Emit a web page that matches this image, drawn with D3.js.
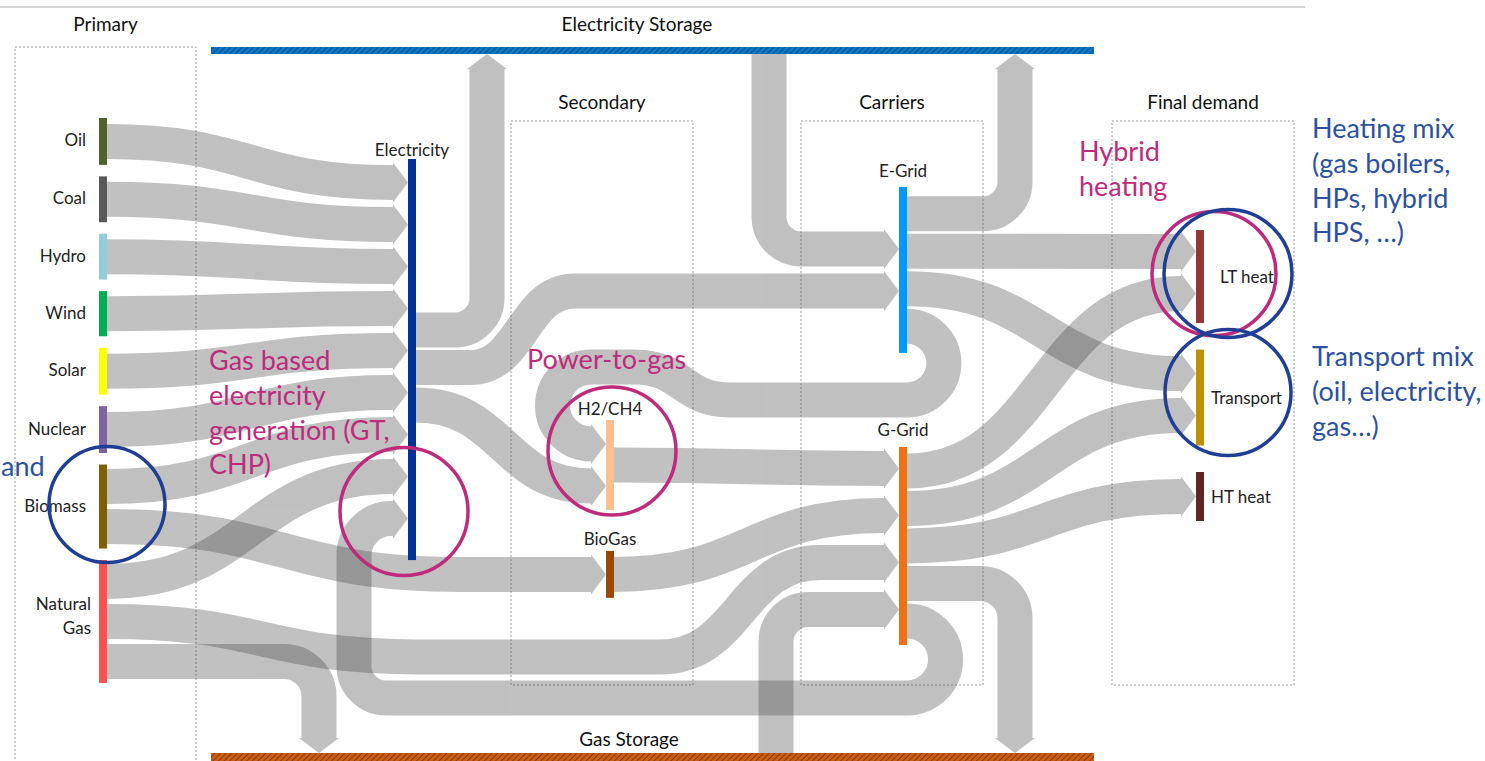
<!DOCTYPE html>
<html>
<head>
<meta charset="utf-8">
<title>Energy system flows</title>
<script src="https://cdn.jsdelivr.net/npm/d3@7/dist/d3.min.js"></script>
<style>
  html, body { margin: 0; padding: 0; background: #ffffff; }
  svg { display: block; font-family: Lato, "Open Sans", sans-serif; }
</style>
</head>
<body>
<svg id="chart" width="1485" height="761"></svg>
<script>
/***************************************************************
 * 1) DATA
 ***************************************************************/
const columns = ["Primary", "Electricity", "Secondary", "Carriers", "Final demand"];
const boxedColumns = ["Primary", "Secondary", "Carriers", "Final demand"];
const storages = ["Electricity Storage", "Gas Storage"];

const nodeNames = ["Oil", "Coal", "Hydro", "Wind", "Solar", "Nuclear", "Biomass", "Natural Gas",
                   "Electricity", "H2/CH4", "BioGas", "E-Grid", "G-Grid", "LT heat", "Transport", "HT heat"];
const nodeColumn = ["Primary", "Primary", "Primary", "Primary", "Primary", "Primary", "Primary", "Primary",
                    "Electricity", "Secondary", "Secondary", "Carriers", "Carriers",
                    "Final demand", "Final demand", "Final demand"];
// node heights in flow units (1 unit = the width of one band)
const nodeSizes = [1.34, 1.31, 1.31, 1.29, 1.34, 1.34, 2.4, 3.51,
                   11.46, 2.57, 1.34, 4.74, 5.66, 2.66, 2.74, 1.4];
const nodeColors = ["#4f6228", "#595959", "#92cddc", "#00b050", "#ffff00", "#8064a2", "#7f6000", "#ff5050",
                    "#003399", "#fac090", "#984807", "#0099ff", "#ee7213", "#953735", "#bf9000", "#632523"];

// [source, target, value]; order sets the stacking of ports on each node
const flows = [
  ["Oil", "Electricity", 1],
  ["Coal", "Electricity", 1],
  ["Hydro", "Electricity", 1],
  ["Wind", "Electricity", 1],
  ["Solar", "Electricity", 1],
  ["Nuclear", "Electricity", 1],
  ["Biomass", "Electricity", 1],
  ["Biomass", "BioGas", 1],
  ["H2/CH4", "G-Grid", 1],
  ["BioGas", "G-Grid", 1],
  ["Natural Gas", "Electricity", 1],
  ["Natural Gas", "G-Grid", 1],
  ["Natural Gas", "Gas Storage", 1],
  ["Electricity Storage", "E-Grid", 1],
  ["Electricity", "Electricity Storage", 1],
  ["Electricity", "E-Grid", 1],
  ["E-Grid", "Electricity Storage", 1],
  ["E-Grid", "LT heat", 1],
  ["E-Grid", "Transport", 1],
  ["E-Grid", "H2/CH4", 1],
  ["Electricity", "H2/CH4", 1],
  ["Gas Storage", "G-Grid", 1],
  ["G-Grid", "LT heat", 1],
  ["G-Grid", "Transport", 1],
  ["G-Grid", "HT heat", 1],
  ["G-Grid", "Gas Storage", 1],
  ["G-Grid", "Electricity", 1]
];

const magentaNotes = [
  ["Gas based", "electricity", "generation (GT,", "CHP)"],
  ["Power-to-gas"],
  ["Hybrid", "heating"]
];
const blueNotes = [
  ["Heating mix", "(gas boilers,", "HPs, hybrid", "HPS, \u2026)"],
  ["Transport mix", "(oil, electricity,", "gas\u2026)"],
  ["and"]
];

/***************************************************************
 * 2) LAYOUT
 ***************************************************************/
const svg = d3.select("#chart");
const MAGENTA = "#bf2a7d", BLUE = "#2b51a3", CIRCLE_BLUE = "#1f3f96";
const FLOW = "#424242", FLOW_OPACITY = 0.33;
const AL = 15, AH = 20;          // arrow length / half height
const nodeW = 8;

const colX = d3.scaleOrdinal().domain(columns).range([99, 408, 606, 899, 1196]);
const band = d3.scaleLinear().domain([0, 1]).range([0, 35]);
const colStack = {
  "Primary": [118, 11.5], "Electricity": [159, 0], "Secondary": [420, 41],
  "Carriers": [187, 94], "Final demand": [230, 26.5]
};
const colBoxes = {
  "Primary": [15, 47, 196, 780], "Secondary": [511, 121, 693, 685],
  "Carriers": [801, 121, 983, 685], "Final demand": [1112, 121, 1294, 685]
};
const storageBar = { "Electricity Storage": { y0: 47, y1: 54, title: [637, 23] },
                     "Gas Storage": { y0: 753, y1: 761, title: [629, 738] } };
const barX = [211, 1094];
const outPitch = { "Primary": 40 };
const inPitch = { "G-Grid": 47 };
const portShift = { "Electricity": { in: -9, out: 8 }, "G-Grid": { in: -7 },
                    "LT heat": { in: -4 }, "Transport": { in: -3 } };

const routes = {
  "Electricity→Electricity Storage": { kind: "up", lane: 487 },
  "E-Grid→Electricity Storage": { kind: "up", lane: 1015 },
  "Electricity Storage→E-Grid": { kind: "fromTop", lane: 769 },
  "Natural Gas→Gas Storage": { kind: "down", lane: 319 },
  "G-Grid→Gas Storage": { kind: "down", lane: 1015 },
  "Gas Storage→G-Grid": { kind: "fromBottom", lane: 776 },
  "E-Grid→H2/CH4": { kind: "loop", returnY: 400, riseAt: [730, 635], riseTo: 367 },
  "G-Grid→Electricity": { kind: "loop", returnY: 698, lane: 354 },
  "Natural Gas→G-Grid": { dip: 657, dipFrom: 420, dipTo: 660, bendEnd: 820 },
  "Electricity→E-Grid": { flatUntil: 470, bendEnd: 575 },
  "Biomass→BioGas": { bendEnd: 460 }
};

// nodes stacked down their column
const nodes = nodeNames.map((name, i) => ({ name, col: nodeColumn[i], size: nodeSizes[i], color: nodeColors[i] }));
const byName = new Map(nodes.map(n => [n.name, n]));
const cursor = {};
nodes.forEach(n => {
  const [top, gap] = colStack[n.col];
  const y = cursor[n.col] ?? top;
  n.y0 = y;
  n.y1 = y + band(n.size);
  cursor[n.col] = n.y1 + gap;
  n.x0 = colX(n.col);
  n.x1 = n.x0 + nodeW;
  n.cx = (n.x0 + n.x1) / 2;
  n.cy = (n.y0 + n.y1) / 2;
});

// ports
const links = flows.map(([s, t, v]) => ({ source: s, target: t, value: v, w: band(v) }));
nodes.forEach(n => {
  const outs = links.filter(l => l.source === n.name);
  const ins = links.filter(l => l.target === n.name);
  const sh = portShift[n.name] || {};
  const op = outPitch[n.col] || 37.5, ip = inPitch[n.name] || 42;
  outs.forEach((l, i) => { l.sx = n.x1; l.sy = n.cy + (sh.out || 0) + (i - (outs.length - 1) / 2) * op; });
  ins.forEach((l, i) => { l.tx = n.x0; l.ty = n.cy + (sh.in || 0) + (i - (ins.length - 1) / 2) * ip; });
});

function linkShape(l) {
  const r = routes[l.source + "→" + l.target] || {};
  const p = d3.path();
  let tip, dir = "right";
  if (r.kind === "up") {
    const bar = storageBar[l.target];
    p.moveTo(l.sx, l.sy);
    p.arcTo(r.lane, l.sy, r.lane, bar.y1 + AL, 32);
    p.lineTo(r.lane, bar.y1 + AL);
    tip = [r.lane, bar.y1]; dir = "up";
  } else if (r.kind === "down") {
    const bar = storageBar[l.target];
    p.moveTo(l.sx, l.sy);
    p.arcTo(r.lane, l.sy, r.lane, bar.y0 - AL, 35);
    p.lineTo(r.lane, bar.y0 - AL);
    tip = [r.lane, bar.y0]; dir = "down";
  } else if (r.kind === "fromTop" || r.kind === "fromBottom") {
    const bar = storageBar[l.source];
    const ax = l.tx - AL;
    p.moveTo(r.lane, r.kind === "fromTop" ? bar.y1 : bar.y0);
    p.arcTo(r.lane, l.ty, ax, l.ty, 32);
    p.lineTo(ax, l.ty);
    tip = [l.tx, l.ty];
  } else if (r.kind === "loop") {
    const rr = (r.returnY - l.sy) / 2, ax = l.tx - AL;
    p.moveTo(l.sx, l.sy);
    p.arcTo(l.sx + rr, l.sy, l.sx + rr, r.returnY, rr);
    p.arcTo(l.sx + rr, r.returnY, l.sx, r.returnY, rr);
    if (r.riseTo) {
      // S-bend up to the upper lane, then U-turn down into the target
      const [xa, xb] = r.riseAt, mx = (xa + xb) / 2;
      p.lineTo(xa, r.returnY);
      p.bezierCurveTo(mx, r.returnY, mx, r.riseTo, xb, r.riseTo);
      const ru = (l.ty - r.riseTo) / 2;
      p.arcTo(ax - ru, r.riseTo, ax - ru, l.ty, ru);
      p.arcTo(ax - ru, l.ty, ax, l.ty, ru);
    } else {
      p.arcTo(r.lane, r.returnY, r.lane, l.ty, 32);
      p.arcTo(r.lane, l.ty, ax, l.ty, ax - r.lane - 2);
    }
    p.lineTo(ax, l.ty);
    tip = [l.tx, l.ty];
  } else {
    const ax = l.tx - AL;
    const pts = [[l.sx, l.sy]];
    if (r.flatUntil) pts.push([r.flatUntil, l.sy]);
    if (r.dip) pts.push([r.dipFrom, r.dip], [r.dipTo, r.dip]);
    if (r.bendEnd) pts.push([r.bendEnd, l.ty]);
    pts.push([ax, l.ty]);
    p.moveTo(pts[0][0], pts[0][1]);
    for (let i = 1; i < pts.length; i++) {
      const [x0, y0] = pts[i - 1], [x1, y1] = pts[i];
      if (Math.abs(y1 - y0) < 0.5) p.lineTo(x1, y1);
      else { const mx = (x0 + x1) / 2; p.bezierCurveTo(mx, y0, mx, y1, x1, y1); }
    }
    tip = [l.tx, l.ty];
  }
  return { d: p.toString(), tip, dir };
}

function arrowPoints(tip, dir) {
  const [x, y] = tip;
  if (dir === "up") return [[x - AH, y + AL], [x, y], [x + AH, y + AL]];
  if (dir === "down") return [[x - AH, y - AL], [x, y], [x + AH, y - AL]];
  return [[x - AL, y - AH], [x, y], [x - AL, y + AH]];
}

/***************************************************************
 * 3) DRAW
 ***************************************************************/
const defs = svg.append("defs");
[["hatchBlue", "#0a78c8", "#0b3a6e"], ["hatchGas", "#cc5e12", "#6e2c00"]].forEach(([id, base, line]) => {
  const pat = defs.append("pattern").attr("id", id).attr("patternUnits", "userSpaceOnUse")
    .attr("width", 4).attr("height", 4).attr("patternTransform", "rotate(45)");
  pat.append("rect").attr("width", 4).attr("height", 4).attr("fill", base);
  pat.append("line").attr("x1", 0).attr("y1", 0).attr("x2", 0).attr("y2", 4)
    .attr("stroke", line).attr("stroke-width", 1.5);
});

// top rule
svg.append("line").attr("x1", 0).attr("x2", 1305).attr("y1", 7).attr("y2", 7)
  .attr("stroke", "#d6d6d6").attr("stroke-width", 2);

// dotted column boxes + titles
boxedColumns.forEach(c => {
  const [x0, y0, x1, y1] = colBoxes[c];
  svg.append("rect").attr("x", x0).attr("y", y0).attr("width", x1 - x0).attr("height", y1 - y0)
    .attr("fill", "none").attr("stroke", "#9a9a9a").attr("stroke-width", 1).attr("stroke-dasharray", "2,2");
  svg.append("text").attr("x", (x0 + x1) / 2).attr("y", y0 - (c === "Primary" ? 24 : 20))
    .attr("text-anchor", "middle").attr("dominant-baseline", "central")
    .attr("font-size", 19).attr("fill", "#111").text(c);
});

// flows
const flowG = svg.append("g").attr("class", "flows");
links.forEach(l => {
  const s = linkShape(l);
  const g = flowG.append("g").attr("opacity", FLOW_OPACITY);
  g.append("path").attr("d", s.d).attr("fill", "none")
    .attr("stroke", FLOW).attr("stroke-width", l.w);
  g.append("polygon").attr("points", arrowPoints(s.tip, s.dir).map(p => p.join(",")).join(" "))
    .attr("fill", FLOW);
});

// storage bars
storages.forEach((name, i) => {
  const b = storageBar[name];
  svg.append("rect").attr("x", barX[0]).attr("y", b.y0).attr("width", barX[1] - barX[0])
    .attr("height", b.y1 - b.y0).attr("fill", i === 0 ? "url(#hatchBlue)" : "url(#hatchGas)");
  svg.append("text").attr("x", b.title[0]).attr("y", b.title[1])
    .attr("text-anchor", "middle").attr("dominant-baseline", "central")
    .attr("font-size", 19).attr("fill", "#111").text(name);
});

// nodes
svg.append("g").selectAll("rect").data(nodes).join("rect")
  .attr("x", d => d.x0).attr("y", d => d.y0)
  .attr("width", nodeW).attr("height", d => d.y1 - d.y0)
  .attr("fill", d => d.color);

// node labels
const labelG = svg.append("g").attr("font-size", 17).attr("fill", "#222");
nodes.forEach(n => {
  if (n.col === "Primary") {
    const lines = n.name === "Natural Gas" ? ["Natural", "Gas"] : [n.name];
    const t = labelG.append("text").attr("text-anchor", "end").attr("dominant-baseline", "central");
    lines.forEach((ln, i) => t.append("tspan")
      .attr("x", n.x0 - (lines.length > 1 ? 8 : 13))
      .attr("y", n.cy - 2 + (i - (lines.length - 1) / 2) * 24 - (lines.length > 1 ? 4 : 0))
      .text(ln));
  } else if (n.col === "Final demand") {
    labelG.append("text").attr("x", n.x1 + (n.name === "LT heat" ? 16 : 7)).attr("y", n.cy)
      .attr("dominant-baseline", "central").text(n.name);
  } else {
    const off = { "Electricity": 10, "Secondary": 12, "Carriers": 17 }[n.col];
    labelG.append("text").attr("x", n.cx).attr("y", n.y0 - off)
      .attr("text-anchor", "middle").attr("dominant-baseline", "central").text(n.name);
  }
});

// annotations
const notePos = [[209, 359], [527, 358], [1079, 150]];
const bluePos = [[1312, 127], [1312, 355], [1, 465]];
function drawNote(lines, [x, y], color) {
  const t = svg.append("text").attr("font-size", 27).attr("fill", color)
    .attr("dominant-baseline", "central");
  lines.forEach((ln, i) => t.append("tspan").attr("x", x).attr("y", y + i * 34.8).text(ln));
}
magentaNotes.forEach((lines, i) => drawNote(lines, notePos[i], MAGENTA));
blueNotes.forEach((lines, i) => drawNote(lines, bluePos[i], BLUE));

// highlight circles, placed relative to the node they mark
const circles = [
  { node: "Biomass", dx: 4, dy: -2, r: 58, color: CIRCLE_BLUE },
  { node: "Electricity", dx: -8, dy: 152, r: 64, color: MAGENTA },
  { node: "H2/CH4", dx: 2, dy: -14, r: 64, color: MAGENTA },
  { node: "LT heat", dx: 14, dy: -3, r: 62, color: MAGENTA },
  { node: "LT heat", dx: 28, dy: -3, r: 64, color: CIRCLE_BLUE },
  { node: "Transport", dx: 28, dy: -5, r: 63, color: CIRCLE_BLUE }
];
svg.append("g").selectAll("circle").data(circles).join("circle")
  .attr("cx", d => byName.get(d.node).cx + d.dx)
  .attr("cy", d => byName.get(d.node).cy + d.dy)
  .attr("r", d => d.r)
  .attr("fill", "none").attr("stroke", d => d.color).attr("stroke-width", 3.5);
</script>
</body>
</html>
